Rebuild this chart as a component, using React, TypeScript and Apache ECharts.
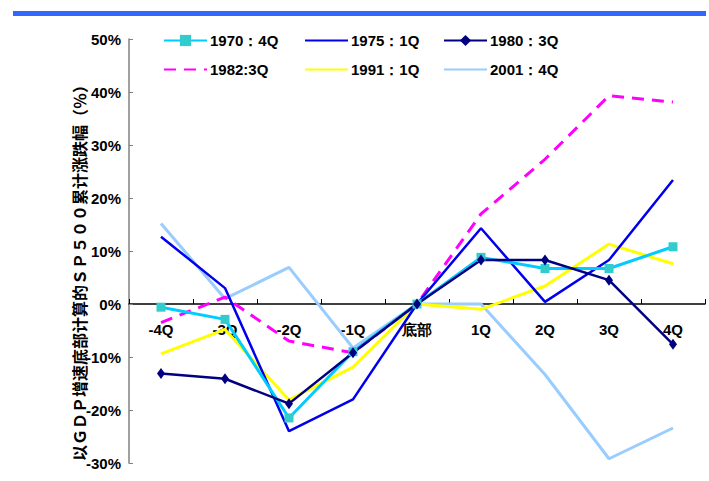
import React, { useEffect, useRef } from "react";
import * as echarts from "echarts";

const categories = ["-4Q", "-3Q", "-2Q", "-1Q", "底部", "1Q", "2Q", "3Q", "4Q"];
const yTicks = { min: -30, max: 50, interval: 10 };

const s1970 = [-0.6, -2.9, -21.5, -9.0, 0, 8.8, 6.7, 6.7, 10.8];
const s1975 = [12.7, 3.0, -24.0, -18.0, 0, 14.3, 0.4, 8.3, 23.4];
const s1980 = [-13.1, -14.1, -18.8, -9.2, 0, 8.3, 8.3, 4.5, -7.6];
const s1982 = [-3.5, 1.3, -7.0, -9.2, 0, 17.0, 27.3, 39.3, 38.1];
const s1991 = [-9.4, -4.8, -18.1, -11.9, 0, -1.0, 3.4, 11.3, 7.6];
const s2001 = [15.2, 1.0, 6.9, -8.3, 0, 0.0, -13.3, -29.2, -23.4];

const names = ["1970：4Q", "1975：1Q", "1980：3Q", "1982:3Q", "1991：1Q", "2001：4Q"];

const FONT = "'Liberation Sans', Arial, sans-serif";

export default function App() {
  const ref = useRef<HTMLDivElement>(null);
  useEffect(() => {
    if (!ref.current) return;
    const chart = echarts.init(ref.current, null, { renderer: "svg" });
    const legendPos = [
      [163, 33], [304, 33], [443, 33],
      [163, 62], [304, 62], [443, 62],
    ];
    const hasSymbol = [true, false, true, false, false, false];
    const legends = names.map((n, i) => ({
      data: [n],
      left: legendPos[i][0],
      top: legendPos[i][1],
      padding: 0,
      itemWidth: 43,
      itemHeight: 14,
      itemGap: 0,
      ...(hasSymbol[i] ? {} : { itemStyle: { opacity: 0 } }),
      textStyle: { fontFamily: FONT, fontWeight: "bold", fontSize: 15, color: "#000", padding: [0, 0, 0, -2] },
    }));
    const lineSeries = (name: string, data: number[], color: string, width: number, extra: any = {}) => ({
      name,
      type: "line",
      data,
      symbol: "none",
      lineStyle: { color, width },
      itemStyle: { color },
      ...extra,
    });
    chart.setOption({
      animation: false,
      backgroundColor: "#fff",
      legend: legends,
      grid: { left: 129, right: 4, top: 39, bottom: 18, containLabel: false, outerBoundsMode: "none" },
      xAxis: [
        {
          type: "category",
          data: categories,
          boundaryGap: true,
          axisLine: { onZero: true, lineStyle: { color: "#000", width: 1.5 } },
          axisTick: { show: true, inside: true, length: 5, lineStyle: { color: "#000" } },
          axisLabel: { show: false },
          splitLine: { show: false },
        },
        {
          type: "category",
          data: categories,
          boundaryGap: true,
          position: "bottom",
          offset: -160,
          axisLine: { show: false, onZero: false },
          axisTick: { show: false },
          axisLabel: { fontFamily: FONT, fontWeight: "bold", fontSize: 15, color: "#000", margin: 19 },
          splitLine: { show: false },
        },
      ],
      yAxis: {
        type: "value",
        min: yTicks.min,
        max: yTicks.max,
        interval: yTicks.interval,
        axisLine: { show: true, lineStyle: { color: "#808080", width: 1.5 } },
        axisTick: { show: true, inside: true, length: 4, lineStyle: { color: "#808080" } },
        axisLabel: { fontFamily: FONT, fontWeight: "bold", fontSize: 15, color: "#000", margin: 8, formatter: "{value}%" },
        splitLine: { show: false },
      },
      graphic: [
        { type: "rect", shape: { x: 13, y: 11, width: 693, height: 5 }, style: { fill: "#3366FF" } },
        {
          type: "text",
          x: 79,
          y: 269,
          rotation: Math.PI / 2,
          style: {
            text: "以ＧＤＰ增速底部计算的ＳＰ５００累计涨跌幅（％）",
            font: "bold 16px 'Noto Sans CJK SC', sans-serif",
            fill: "#000",
            align: "center",
            verticalAlign: "middle",
          },
        },
      ],
      series: [
        lineSeries(names[5], s2001, "#99CCFF", 3),
        lineSeries(names[4], s1991, "#FFFF00", 3),
        lineSeries(names[3], s1982, "#FF00FF", 3, { lineStyle: { color: "#FF00FF", width: 3, type: [12, 8] } }),
        lineSeries(names[1], s1975, "#0000EE", 2.5),
        {
          name: names[0],
          type: "line",
          data: s1970,
          symbol: "rect",
          symbolSize: 9,
          lineStyle: { color: "#00CCFF", width: 3 },
          itemStyle: { color: "#33CCCC" },
        },
        {
          name: names[2],
          type: "line",
          data: s1980,
          symbol: "diamond",
          symbolSize: [8, 11],
          lineStyle: { color: "#000080", width: 2.5 },
          itemStyle: { color: "#000080" },
        },
      ],
    });
    return () => chart.dispose();
  }, []);
  return <div ref={ref} style={{ position: "fixed", left: 0, top: 0, width: 709, height: 481 }} />;
}
